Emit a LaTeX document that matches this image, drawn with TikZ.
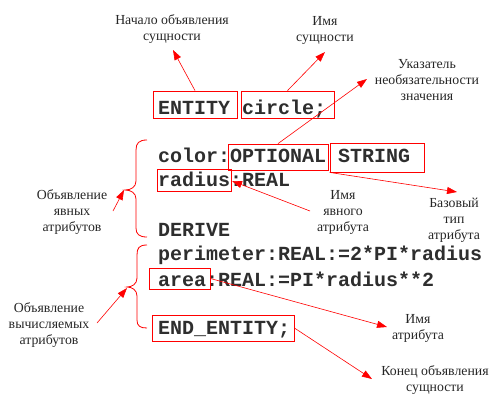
\documentclass[tikz,border=0pt]{standalone}
\usepackage{fontspec}
\setmainfont{Liberation Serif}
\setmonofont{Liberation Mono}
\newfontfamily\lblfont{Liberation Serif}
\usetikzlibrary{arrows.meta}
\begin{document}
\begin{tikzpicture}[x=1pt,y=-1pt,
  code/.style={anchor=base west, inner sep=0, font=\ttfamily\bfseries\fontsize{20}{24}\selectfont, text=black!82},
  lbl/.style={align=center, inner sep=0, font=\lblfont\fontsize{13.8}{16}\selectfont, text=black!85},
  rbox/.style={draw=red, line width=0.8pt, inner sep=0},
  arr/.style={red, line width=0.6pt, -{Triangle[length=10pt,width=7pt]}},
  bracepath/.style={red, line width=0.8pt}]
\useasboundingbox (0,0) rectangle (502,408);
% code lines
\node[code] (l1) at (158,114) {ENTITY circle;};
\node[code] (l2) at (158,162) {color:OPTIONAL STRING};
\node[code] (l3) at (158,186) {radius:REAL};
\node[code] (l4) at (158,236) {DERIVE};
\node[code] (l5) at (158,260) {perimeter:REAL:=2*PI*radius};
\node[code] (l6) at (158,286) {area:REAL:=PI*radius**2};
\node[code] (l7) at (158,334) {END\_ENTITY;};
% boxes
\node[rbox, minimum width=84pt, minimum height=27pt] (bEntity) at (195,104.5) {};
\node[rbox, minimum width=93pt, minimum height=27pt] (bCircle) at (287.5,104.5) {};
\node[rbox, minimum width=100pt, minimum height=26pt] (bOptional) at (278,157) {};
\node[rbox, minimum width=94pt, minimum height=29pt] (bString) at (377,157.5) {};
\node[rbox, minimum width=74pt, minimum height=22pt] (bRadius) at (194,180) {};
\node[rbox, minimum width=61pt, minimum height=21pt] (bArea) at (179.5,278.5) {};
\node[rbox, minimum width=142pt, minimum height=26pt] (bEnd) at (223,328) {};
% labels
\node[lbl] (L1) at (172,29) {Начало объявления\\сущности};
\node[lbl] (L2) at (325,30) {Имя\\сущности};
\node[lbl] (L3) at (427,80) {Указатель\\необязательности\\значения};
\node[lbl] (L4) at (72,212) {Объявление\\явных\\атрибутов};
\node[lbl] (L5) at (343,212) {Имя\\явного\\атрибута};
\node[lbl] (L6) at (454,220) {Базовый\\тип\\атрибута};
\node[lbl] (L7) at (49,325) {Объявление\\вычисляемых\\атрибутов};
\node[lbl] (L8) at (418,328) {Имя\\атрибута};
\node[lbl] (L9) at (435,380) {Конец объявления\\сущности};
% braces
\draw[bracepath] (147,140) .. controls (139,140) and (136,143) .. (136,150) -- (136,181)
  .. controls (136,187) and (131,190) .. (125,190)
  .. controls (131,190) and (136,193) .. (136,199) -- (136,228)
  .. controls (136,234) and (139,237) .. (147,237);
\draw[bracepath] (147,245) .. controls (139,245) and (137,248) .. (137,255) -- (137,278)
  .. controls (137,284) and (132,287) .. (127,287)
  .. controls (132,287) and (137,290) .. (137,296) -- (137,320)
  .. controls (137,326) and (140,328) .. (147,328);
% arrow coordinates
\coordinate (t1) at (173,50);
\coordinate (t2) at (325,52);
\coordinate (t3) at (367,79);
\coordinate (t4) at (457,192);
\coordinate (s5) at (310,211);
\coordinate (t5) at (232,181);
\coordinate (s6) at (113,211);
\coordinate (t6) at (124,190);
\coordinate (s7) at (97,323);
\coordinate (t7) at (127,288);
\coordinate (t8) at (387,327);
\coordinate (t9) at (372,379);
% arrows
\draw[arr] (bEntity.north) -- (t1);
\draw[arr] (bCircle.north) -- (t2);
\draw[arr] (bOptional.north) -- (t3);
\draw[arr] (bString.south west) -- (t4);
\draw[arr] (s5) -- (t5);
\draw[arr] (s6) -- (t6);
\draw[arr] (s7) -- (t7);
\draw[arr] (bArea.east) -- (t8);
\draw[arr] (bEnd.east) -- (t9);
\end{tikzpicture}
\end{document}
